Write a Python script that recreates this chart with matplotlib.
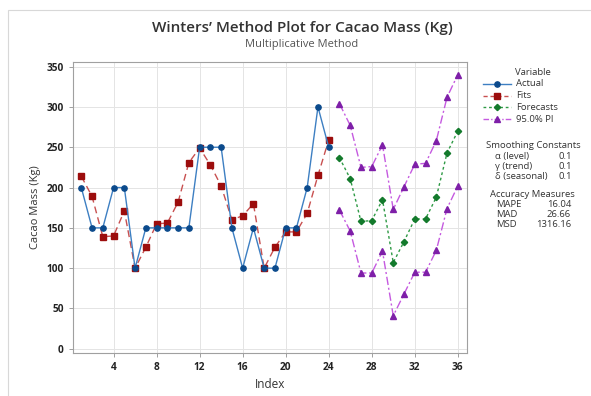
import matplotlib
matplotlib.use('Agg')
import matplotlib.pyplot as plt
from matplotlib.lines import Line2D
from matplotlib.patches import Rectangle

plt.rcParams['font.family'] = ['Open Sans', 'DejaVu Sans']

# data
idx_fit = list(range(1, 25))
actual = [200, 150, 150, 200, 200, 100, 150, 150, 150, 150, 150, 250,
          250, 250, 150, 100, 150, 100, 100, 150, 150, 200, 300, 250]
fits = [214, 189, 139, 140, 171, 100, 126, 155, 156, 182, 231, 249,
        228, 202, 160, 165, 180, 100, 126, 145, 145, 168, 215, 259]
idx_fc = list(range(25, 37))
forecasts = [237, 211, 158, 159, 185, 107, 133, 161, 161, 188, 243, 270]
pi_upper = [304, 277, 225, 226, 253, 173, 201, 229, 230, 258, 312, 340]
pi_lower = [172, 146, 94, 94, 121, 41, 68, 95, 95, 122, 174, 202]

c_act_line, c_act_mk = '#3d7fc2', '#0b4a8c'
c_fit_line, c_fit_mk = '#c85050', '#9c0d0d'
c_fc_line, c_fc_mk = '#2e9a45', '#137a2c'
c_pi_line, c_pi_mk = '#c55ae0', '#7e1fa8'

fig = plt.figure(figsize=(5.91, 3.96), dpi=100)
fig.patch.set_facecolor('white')
ax = fig.add_axes([0.123, 0.109, 0.668, 0.735])

ax.plot(idx_fit, actual, color=c_act_line, lw=1.0, marker='o', ms=3.8,
        mfc=c_act_mk, mec=c_act_mk, zorder=4)
ax.plot(idx_fit, fits, color=c_fit_line, lw=1.0, ls=(0, (5, 3)), marker='s', ms=3.8,
        mfc=c_fit_mk, mec=c_fit_mk, zorder=3)
ax.plot(idx_fc, forecasts, color=c_fc_line, lw=1.0, ls=(0, (2, 2)), marker='D', ms=3.2,
        mfc=c_fc_mk, mec=c_fc_mk, zorder=3)
for pi in (pi_upper, pi_lower):
    ax.plot(idx_fc, pi, color=c_pi_line, lw=1.0, ls=(0, (6, 2, 1.5, 2)), marker='^', ms=4.3,
            mfc=c_pi_mk, mec=c_pi_mk, zorder=3)

ax.set_xlim(0.2, 36.9)
ax.set_ylim(-5, 356)
ax.set_xticks(range(4, 37, 4))
ax.set_yticks(range(0, 351, 50))
ax.grid(color='#e4e4e4', lw=0.7)
ax.set_axisbelow(True)
for s in ax.spines.values():
    s.set_color('#a0a0a0')
    s.set_linewidth(0.8)
ax.tick_params(labelsize=7.3, colors='#a0a0a0', labelcolor='#222222', length=3, width=0.7)
for lbl in ax.get_xticklabels() + ax.get_yticklabels():
    lbl.set_fontweight('bold')
ax.set_xlabel('Index', fontsize=8.5, color='#333333', labelpad=4)
ax.set_ylabel('Cacao Mass (Kg)', fontsize=8, color='#333333', labelpad=4)

fig.text(0.511, 1 - 28 / 396, "Winters\u2019 Method Plot for Cacao Mass (Kg)", ha='center',
         va='center', fontsize=11, fontweight='semibold', color='#333333')
fig.text(0.511, 1 - 45 / 396, 'Multiplicative Method', ha='center', va='center',
         fontsize=8, color='#555555')

# legend panel drawn by hand
fs = 6.8
tc = '#333333'
fig.text(533 / 591, 1 - 72.5 / 396, 'Variable', ha='center', va='center', fontsize=fs, color=tc)
entries = [('Actual', c_act_line, c_act_mk, '-', 'o', 3.8),
           ('Fits', c_fit_line, c_fit_mk, (0, (3, 2)), 's', 3.8),
           ('Forecasts', c_fc_line, c_fc_mk, (0, (2, 2)), 'D', 3.2),
           ('95.0% PI', c_pi_line, c_pi_mk, (0, (4, 1.5, 1, 1.5)), '^', 4.3)]
for i, (name, lc, mc, ls, mk, ms) in enumerate(entries):
    y = 1 - (84 + 11.7 * i) / 396
    fig.add_artist(Line2D([483 / 591, 511 / 591], [y, y], color=lc, lw=1.0, ls=ls,
                          transform=fig.transFigure))
    fig.add_artist(Line2D([497 / 591], [y], marker=mk, ms=ms, color=mc, mec=mc,
                          transform=fig.transFigure))
    fig.text(516 / 591, y, name, va='center', fontsize=fs, color=tc)

fig.text(533 / 591, 1 - 145 / 396, 'Smoothing Constants', ha='center', va='center', fontsize=fs, color=tc)
smooth = [('\u03b1 (level)', '0.1'), ('\u03b3 (trend)', '0.1'), ('\u03b4 (seasonal)', '0.1')]
for i, (k, v) in enumerate(smooth):
    y = 1 - (157 + 9.8 * i) / 396
    fig.text(495 / 591, y, k, va='center', fontsize=fs, color=tc)
    fig.text(572 / 591, y, v, va='center', ha='right', fontsize=fs, color=tc)

fig.text(532 / 591, 1 - 194.5 / 396, 'Accuracy Measures', ha='center', va='center', fontsize=fs, color=tc)
acc = [('MAPE', '16.04'), ('MAD', '26.66'), ('MSD', '1316.16')]
for i, (k, v) in enumerate(acc):
    y = 1 - (205 + 9.8 * i) / 396
    fig.text(496 / 591, y, k, va='center', fontsize=fs, color=tc)
    fig.text(571 / 591, y, v, va='center', ha='right', fontsize=fs, color=tc)

# faint outer frame like the screenshot
fig.add_artist(Rectangle((8 / 591, -0.02), 1.1, 1 - 10 / 396 + 0.02, transform=fig.transFigure,
                         fill=False, ec='#d8d8d8', lw=0.8))

fig.savefig('out.png', dpi=100)
